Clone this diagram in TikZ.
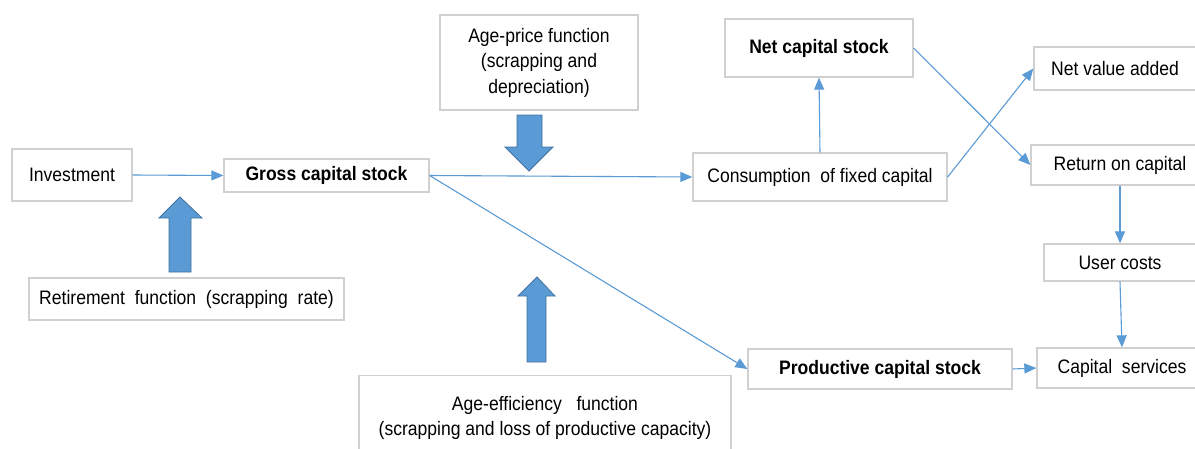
\documentclass[tikz,border=0pt]{standalone}
\usepackage{fontspec}
\setmainfont[FakeStretch=0.9]{Liberation Sans}
\usetikzlibrary{arrows.meta}
\definecolor{lineblue}{HTML}{5B9BD5}
\definecolor{blockedge}{HTML}{41719C}
\definecolor{boxgray}{HTML}{D0D0D0}
\begin{document}
\begin{tikzpicture}[x=1pt,y=-1pt,
  box/.style={draw=boxgray,line width=1.3pt,fill=white,inner sep=0pt,align=center,
    font=\fontsize{19.5}{25.5}\selectfont,text=black},
  conn/.style={draw=lineblue,line width=1.1pt,-{Triangle[length=12pt,width=10pt]}},
  blockarrow/.style={fill=lineblue,draw=blockedge,line width=0.8pt,line join=miter}]
\useasboundingbox (0,0) rectangle (1195,448);
\fill[white] (0,0) rectangle (1195,448);
% boxes
\node[box,minimum width=120pt,minimum height=52pt] (inv) at (72,175) {Investment};
\node[box,minimum width=205pt,minimum height=33pt] (gross) at (326.5,175.5) {\bfseries Gross capital stock};
\node[box,minimum width=315pt,minimum height=42pt] (ret) at (186.5,299) {Retirement\ \ function\ \ (scrapping\ \ rate)};
\node[box,minimum width=198pt,minimum height=95pt] (ageprice) at (539,62.5) {Age-price function\\(scrapping and\\depreciation)};
\node[box,minimum width=254pt,minimum height=48pt] (cons) at (820,177) {Consumption\ \ of fixed capital};
\node[box,minimum width=188pt,minimum height=58pt] (net) at (819,48) {\bfseries Net capital stock};
\node[box,minimum width=162pt,minimum height=43pt] (nva) at (1115,68.5) {Net value added};
\node[box,minimum width=178pt,minimum height=40pt] (roc) at (1120,165) {Return on capital};
\node[box,minimum width=152pt,minimum height=37pt] (uc) at (1120,262.5) {User costs};
\node[box,minimum width=170pt,minimum height=40pt] (cs) at (1122,368) {Capital\ \ services};
\node[box,minimum width=264pt,minimum height=40pt] (prod) at (880,369) {\bfseries Productive capital stock};
\node[box,minimum width=372pt,minimum height=85pt] (ageeff) at (545,418) {Age-efficiency\ \ \ function\\(scrapping and loss of productive capacity)};
% block arrows
\draw[blockarrow] (169,272) -- (169,218) -- (159,218) -- (180,197) -- (202,218) -- (191,218) -- (191,272) -- cycle;
\draw[blockarrow] (517,115) -- (517,147) -- (505,147) -- (529,171) -- (553,147) -- (542,147) -- (542,115) -- cycle;
\draw[blockarrow] (527,362) -- (527,296) -- (518,296) -- (537,277) -- (555,296) -- (546,296) -- (546,362) -- cycle;
% connectors
\draw[conn] (inv.east) -- (gross.west);
\draw[conn] (gross.east) -- (cons.west);
\draw[conn] (gross.east) -- (prod.west);
\draw[conn] (cons.north) -- (net.south);
\draw[conn] (cons.east) -- (nva.west);
\draw[conn] (net.east) -- (roc.west);
\draw[conn] (roc.south) -- (uc.north);
\draw[conn] (uc.south) -- (cs.north);
\draw[conn] (prod.east) -- (cs.west);
\end{tikzpicture}
\end{document}
